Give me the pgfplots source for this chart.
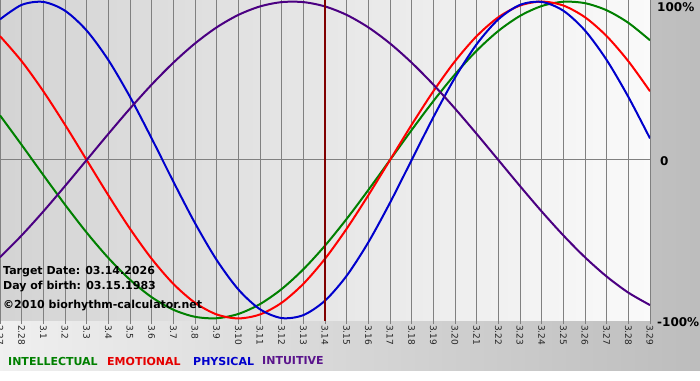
\documentclass[border=0pt]{standalone}
\usepackage{pgfplots}
\usepackage{pgfplotstable}
\pgfplotsset{compat=1.18}
\usepackage{fontspec}
\setmainfont{DejaVu Sans}
\definecolor{cgreen}{RGB}{0,128,0}
\definecolor{cred}{RGB}{255,0,0}
\definecolor{cblue}{RGB}{0,0,204}
\definecolor{cpurple}{RGB}{75,0,130}
\definecolor{lpurple}{RGB}{90,20,140}
\definecolor{maroon}{RGB}{128,0,0}
\pgfplotstableread{
i phys emo intel intu
0 0.8879 0.7818 0.2817 -0.6142
1 0.9791 0.6235 0.0951 -0.4759
2 0.9977 0.4339 -0.0951 -0.3247
3 0.9423 0.2225 -0.2817 -0.1646
4 0.8170 0 -0.4582 0
5 0.6311 -0.2225 -0.6182 0.1646
6 0.3984 -0.4339 -0.7557 0.3247
7 0.1362 -0.6235 -0.8660 0.4759
8 -0.1362 -0.7818 -0.9450 0.6142
9 -0.3984 -0.9010 -0.9898 0.7357
10 -0.6311 -0.9749 -0.9989 0.8372
11 -0.8170 -1 -0.9718 0.9158
12 -0.9423 -0.9749 -0.9096 0.9694
13 -0.9977 -0.9010 -0.8146 0.9966
14 -0.9791 -0.7818 -0.6901 0.9966
15 -0.8879 -0.6235 -0.5406 0.9694
16 -0.7308 -0.4339 -0.3717 0.9158
17 -0.5196 -0.2225 -0.1893 0.8372
18 -0.2698 0 0 0.7357
19 0 0.2225 0.1893 0.6142
20 0.2698 0.4339 0.3717 0.4759
21 0.5196 0.6235 0.5406 0.3247
22 0.7308 0.7818 0.6901 0.1646
23 0.8879 0.9010 0.8146 0
24 0.9791 0.9749 0.9096 -0.1646
25 0.9977 1 0.9718 -0.3247
26 0.9423 0.9749 0.9989 -0.4759
27 0.8170 0.9010 0.9898 -0.6142
28 0.6311 0.7818 0.9450 -0.7357
29 0.3984 0.6235 0.8660 -0.8372
30 0.1362 0.4339 0.7557 -0.9158
}\bio
\begin{document}
\begin{tikzpicture}
\path[use as bounding box] (0pt,0pt) rectangle (700pt,380pt);
\fill[white] (0pt,0pt) rectangle (700pt,380pt);
\shade[left color=black!6,right color=black!26] (0pt,10pt) rectangle (700pt,380pt);
\begin{axis}[
  at={(0pt,60pt)}, anchor=south west,
  width=650pt, height=320pt, scale only axis,
  xmin=0, xmax=30, ymin=-1.01, ymax=1.01,
  axis background/.style={shade, left color=black!17, right color=black!2},
  axis line style={draw=none},
  xtick={0,...,30},
  xticklabels={2.27,2.28,3.1,3.2,3.3,3.4,3.5,3.6,3.7,3.8,3.9,3.10,3.11,3.12,3.13,3.14,3.15,3.16,3.17,3.18,3.19,3.20,3.21,3.22,3.23,3.24,3.25,3.26,3.27,3.28,3.29},
  ytick={0}, yticklabels={},
  xmajorgrids, ymajorgrids,
  grid style={black!50, line width=1pt},
  tick pos=left, tick align=outside, major tick length=4pt,
  xtick style={black!50, line width=1pt},
  ytick style={draw=none},
  xticklabel style={rotate=-90, anchor=west, font=\fontsize{9}{9}\selectfont, text=black!85, inner sep=1pt},
]
\addplot[cgreen, line width=2pt, smooth] table[x=i, y=intel]{\bio};
\addplot[cred, line width=2pt, smooth] table[x=i, y=emo]{\bio};
\addplot[cblue, line width=2pt, smooth] table[x=i, y=phys]{\bio};
\addplot[cpurple, line width=2pt, smooth] table[x=i, y=intu]{\bio};
\addplot[maroon, line width=2pt] coordinates {(15,-1.2) (15,1.2)};
\end{axis}
\begin{scope}[every node/.style={anchor=west, inner sep=0pt, font=\bfseries\fontsize{11}{11}\selectfont}]
\node at (3pt,108pt) {Target Date: 03.14.2026};
\node at (3pt,93pt) {Day of birth: 03.15.1983};
\node at (3pt,74pt) {©2010 biorhythm-calculator.net};
\node[text=cgreen] at (8pt,19pt) {INTELLECTUAL};
\node[text=red!90!black] at (107pt,19pt) {EMOTIONAL};
\node[text=cblue] at (193pt,19pt) {PHYSICAL};
\node[text=lpurple] at (262pt,19pt) {INTUITIVE};
\end{scope}
\begin{scope}[every node/.style={anchor=west, inner sep=0pt, font=\bfseries\fontsize{12}{12}\selectfont}]
\node at (657pt,373pt) {100\%};
\node at (660pt,219pt) {0};
\node at (657pt,58pt) {-100\%};
\end{scope}
\end{tikzpicture}
\end{document}
